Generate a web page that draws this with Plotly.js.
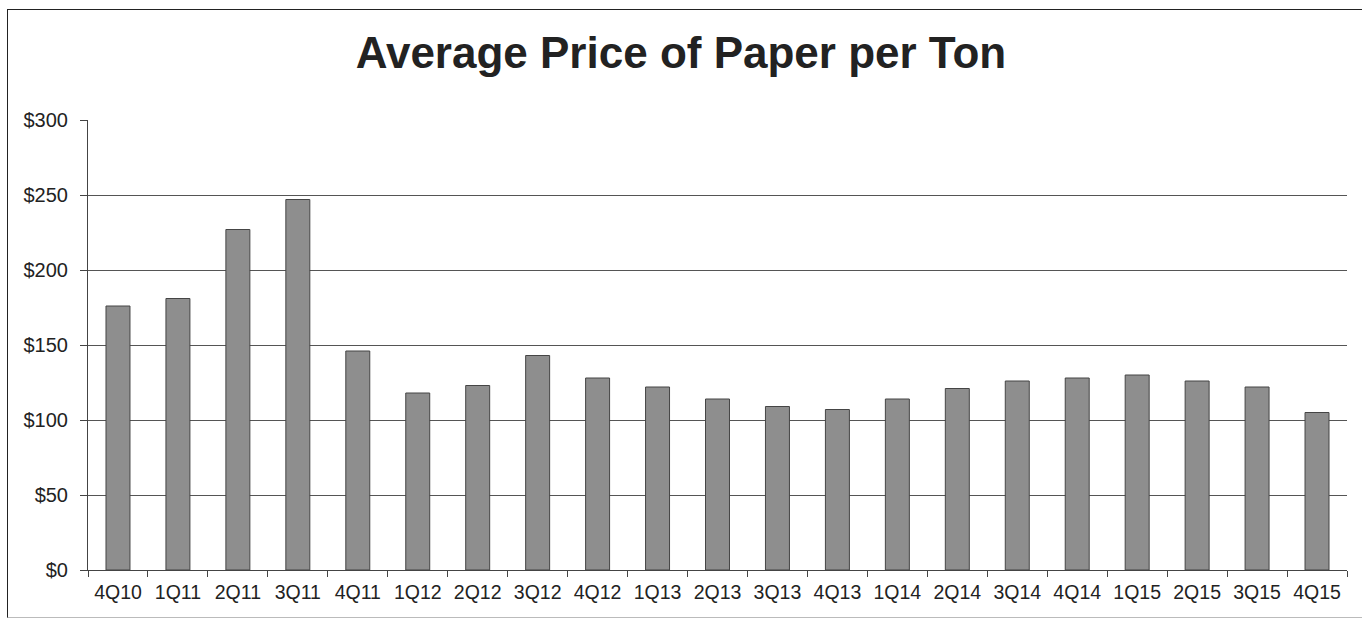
<!DOCTYPE html>
<html>
<head>
<meta charset="utf-8">
<script src="https://cdn.plot.ly/plotly-3.0.1.min.js"></script>
<style>
html,body{margin:0;padding:0;background:#fff;overflow:hidden;}
#wrap{position:relative;width:1362px;height:619px;overflow:hidden;}
#chart{width:1362px;height:619px;}
#frame{position:absolute;left:7px;top:9px;width:1400px;height:609px;border:1.5px solid #222;border-bottom-color:#bbb;pointer-events:none;box-sizing:border-box;}
</style>
</head>
<body>
<div id="wrap"><div id="chart"></div><div id="frame"></div></div>
<script>
var quarters = ["4Q10","1Q11","2Q11","3Q11","4Q11","1Q12","2Q12","3Q12","4Q12","1Q13","2Q13","3Q13","4Q13","1Q14","2Q14","3Q14","4Q14","1Q15","2Q15","3Q15","4Q15"];
var pricePerTon = [176,181,227,247,146,118,123,143,128,122,114,109,107,114,121,126,128,130,126,122,105];
var yTickValues = [0,50,100,150,200,250,300];
var yTickLabels = ["$0","$50","$100","$150","$200","$250","$300"];

var trace = {
  type: "bar",
  x: quarters,
  y: pricePerTon,
  marker: {color: "#8e8e8e", line: {color: "#454545", width: 1}},
  hoverinfo: "x+y"
};

var layout = {
  width: 1362, height: 619,
  margin: {l: 88, r: 15, t: 120, b: 49},
  paper_bgcolor: "#ffffff",
  plot_bgcolor: "#ffffff",
  bargap: 0.6,
  showlegend: false,
  font: {family: "Liberation Sans, Arial, sans-serif", color: "#222", size: 20},
  title: {
    text: "<b>Average Price of Paper per Ton</b>",
    font: {family: "Liberation Sans, Arial, sans-serif", size: 44, color: "#222"},
    x: 0.5, xanchor: "center", y: 0.915, yanchor: "middle"
  },
  xaxis: {
    type: "category",
    showgrid: false,
    showline: true, linecolor: "#444", linewidth: 1,
    ticks: "outside", tickson: "boundaries", ticklen: 6, tickcolor: "#444",
    ticklabelstandoff: 5,
    tickfont: {size: 19.5, color: "#222"},
    zeroline: false, fixedrange: true
  },
  yaxis: {
    range: [0, 300],
    tickvals: yTickValues, ticktext: yTickLabels,
    showgrid: true, gridcolor: "#555", gridwidth: 1,
    showline: true, linecolor: "#444", linewidth: 1,
    ticks: "outside", ticklen: 7, tickcolor: "#444",
    ticklabelstandoff: 8,
    tickfont: {size: 20, color: "#222"},
    zeroline: false, fixedrange: true
  }
};

Plotly.newPlot("chart", [trace], layout, {displayModeBar: false, staticPlot: true});
</script>
</body>
</html>
